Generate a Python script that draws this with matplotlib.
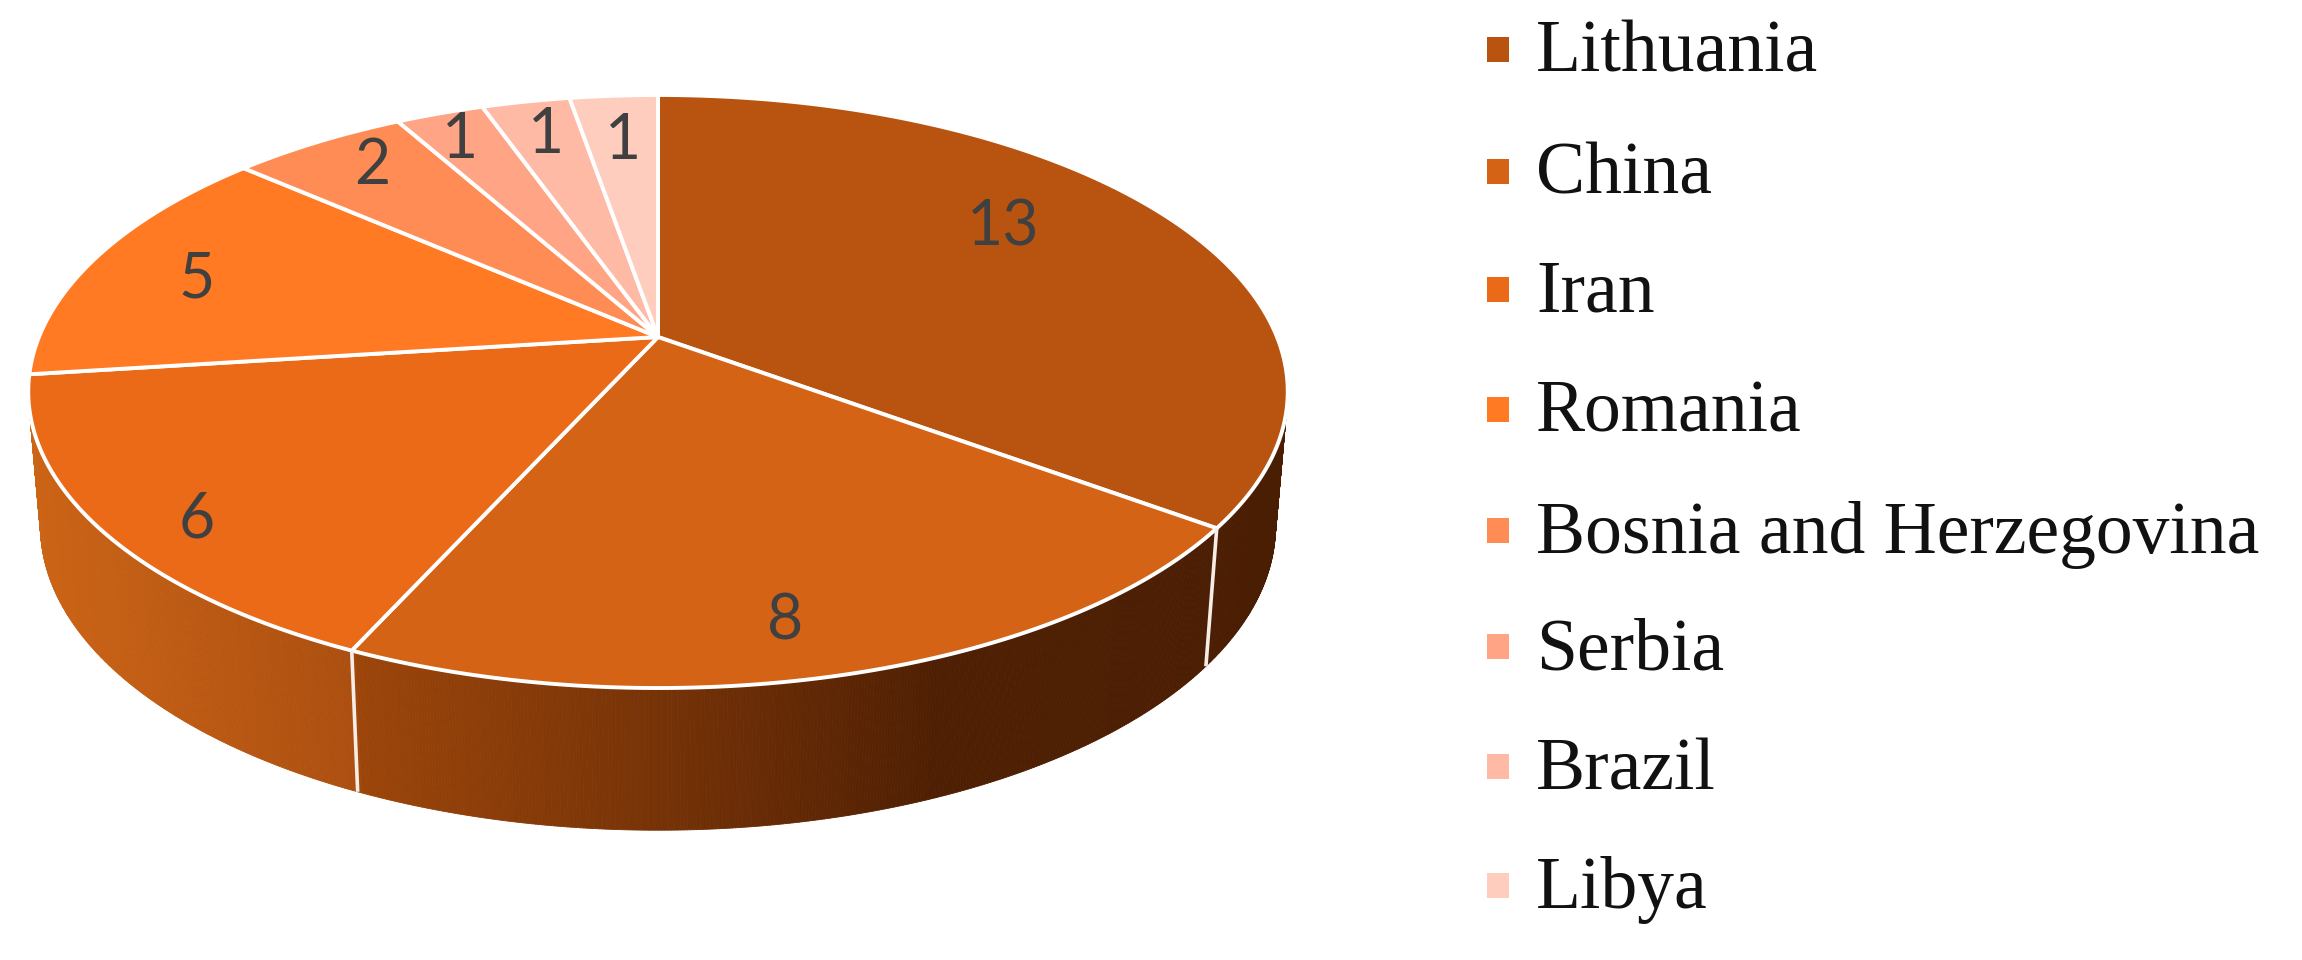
import numpy as np
import matplotlib
matplotlib.use("Agg")
import matplotlib.pyplot as plt
from matplotlib.collections import PolyCollection
from matplotlib.colors import to_rgb
from matplotlib.patches import Polygon, Rectangle

countries = ["Lithuania", "China", "Iran", "Romania", "Bosnia and Herzegovina",
             "Serbia", "Brazil", "Libya"]
counts = [13, 8, 6, 5, 2, 1, 1, 1]
colors = ["#B85410", "#D46316", "#EA6A18", "#FF7A22", "#FF8C54", "#FFA585",
          "#FFBAA6", "#FFCDBE"]

# where the numbers and legend rows sit, in image pixels
label_xy = [(1003, 227), (785, 622), (197, 520), (197, 279), (372, 166),
            (460, 140), (546, 135), (623, 141)]
legend_y = [49, 171, 289, 409, 530, 646, 766, 885]

# shading of the side wall, left to right
wall_x = [28, 350, 356, 652, 939, 1290]
wall_colors = ["#CC6416", "#AC4F10", "#9C450A", "#773307", "#4F1F03", "#4A1E03"]

TILT = 0.1838
APEX = (658, 337)


def project(deg, cx, cy, rx, ry):
    # clock angle on the disc -> pixel, nearer edge drawn larger
    t = np.radians(deg)
    w = 1 + TILT * np.cos(t)
    return cx + rx * np.sin(t) / w, cy - ry * np.cos(t) / w


def top(deg):
    return project(deg, APEX[0], APEX[1], 619, 286.5)


def bottom(deg):
    return project(deg, 658, 470, 607, 294)


fig = plt.figure(figsize=(23.02, 9.6), dpi=100)
ax = fig.add_axes([0, 0, 1, 1])
ax.set_xlim(0, 2302)
ax.set_ylim(960, 0)
ax.axis("off")

edges = 360 * np.cumsum([0] + counts) / sum(counts)

# side wall as thin strips so the gradient stays smooth
steps = np.arange(100, 260.01, 0.25)
wall_rgb = np.array([to_rgb(c) for c in wall_colors])
strips, strip_colors = [], []
for a, b in zip(steps[:-1], steps[1:]):
    tx0, ty0 = top(a)
    tx1, ty1 = top(b)
    bx0, by0 = bottom(a)
    bx1, by1 = bottom(b)
    strips.append([(tx0, ty0), (tx1, ty1), (bx1, by1), (bx0, by0)])
    xm = (tx0 + tx1) / 2
    strip_colors.append([np.interp(xm, wall_x, wall_rgb[:, i]) for i in range(3)])
ax.add_collection(PolyCollection(strips, facecolors=strip_colors,
                                 edgecolors=strip_colors, linewidths=0.6))

for deg in edges:
    if 100 < deg < 260:
        tx, ty = top(deg)
        bx, by = bottom(deg)
        ax.plot([tx, bx], [ty, by], color="#F6EDE6", lw=2.6, solid_capstyle="butt")

# top face
for i, color in enumerate(colors):
    angles = np.linspace(edges[i], edges[i + 1], 200)
    xs, ys = top(angles)
    pts = [APEX] + list(zip(xs, ys))
    ax.add_patch(Polygon(pts, closed=True, facecolor=color, edgecolor="white",
                         linewidth=2.8, joinstyle="round"))

for (x, y), n in zip(label_xy, counts):
    ax.text(x, y, str(n), ha="center", va="center", fontsize=45,
            family="Lato", color="#404040")

for name, color, y in zip(countries, colors, legend_y):
    ax.add_patch(Rectangle((1487, y - 12.5), 22, 25, facecolor=color, edgecolor="none"))
    ax.text(1536, y + 23, name, ha="left", va="baseline", fontsize=53,
            family="Liberation Serif", color="#111111")

fig.savefig("out.png", dpi=100)
